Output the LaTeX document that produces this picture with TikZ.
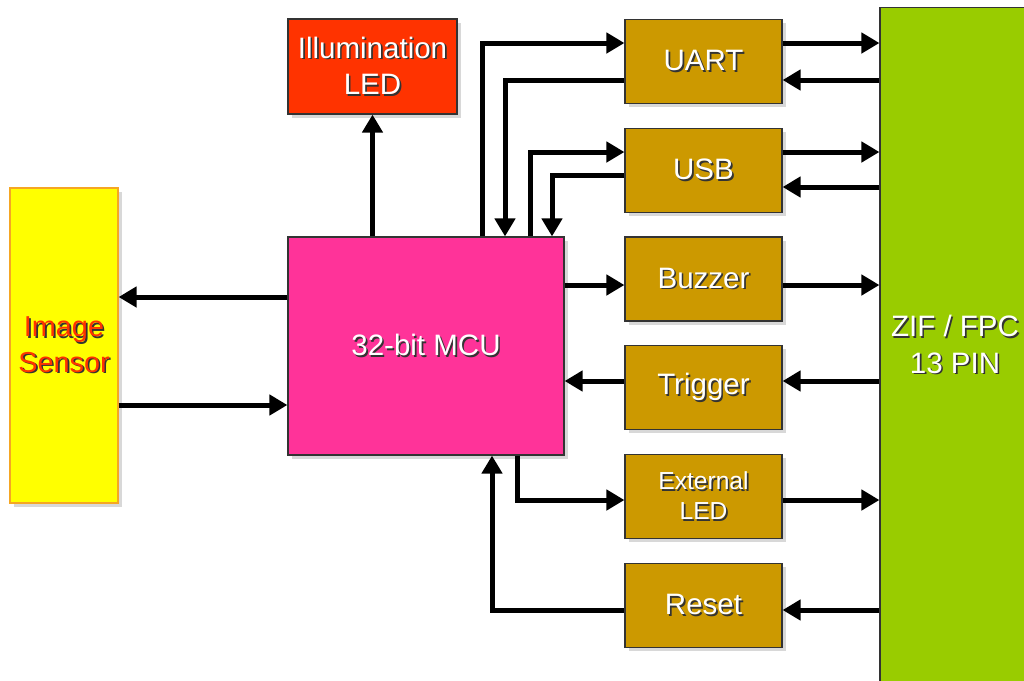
\documentclass[tikz,border=0pt]{standalone}
\usepackage{fontspec}
\setmainfont{Liberation Sans}
\usepackage{xcolor}
\usetikzlibrary{arrows.meta,positioning,shadows}

\definecolor{sensorfill}{HTML}{FFFF00}
\definecolor{sensorline}{HTML}{F5A623}
\definecolor{sensortext}{HTML}{FF3300}
\definecolor{mcufill}{HTML}{FF3399}
\definecolor{ledfill}{HTML}{FF3300}
\definecolor{blockfill}{HTML}{CC9900}
\definecolor{ziffill}{HTML}{99CC00}

% text with a small dark shadow
\newcommand{\shtext}[1]{\makebox[0pt][l]{\hspace{1.2pt}\raisebox{-1.2pt}{\color{black!80}#1}}#1}

\begin{document}
\begin{tikzpicture}[
    x=0.025cm, y=-0.025cm,
    node distance=0.59cm,
    box/.style={rectangle, draw=black!80, line width=0.8pt, inner sep=0pt, align=center,
        drop shadow={shadow xshift=0.09cm, shadow yshift=-0.09cm, fill=black!30},
        text=white, font=\fontsize{21}{26}\selectfont},
    blockbox/.style={box, fill=blockfill, minimum width=3.925cm, minimum height=2.1cm},
    arrow/.style={-{Triangle[length=0.45cm, width=0.5cm]}, line width=0.125cm}
]
\useasboundingbox (0,0) rectangle (1024,680);

\node[box, fill=sensorfill, draw=sensorline, text=sensortext, minimum width=2.7cm, minimum height=7.875cm,
    font=\fontsize{20.5}{25}\selectfont] (sensor) at (64,345.5) {\shtext{Image}\\\shtext{Sensor}};
\node[box, fill=mcufill, minimum width=6.9cm, minimum height=5.45cm] (mcu) at (426,346) {\shtext{32-bit MCU}};
\node[box, fill=ledfill, minimum width=4.225cm, minimum height=2.375cm] (illum) at (372.5,66.5) {\shtext{Illumination}\\\shtext{LED}};

\node[blockbox] (uart) at (703.5,61.5) {\shtext{UART}};
\node[blockbox, below=of uart] (usb) {\shtext{USB}};
\node[blockbox, below=of usb] (buzzer) {\shtext{Buzzer}};
\node[blockbox, below=of buzzer] (trigger) {\shtext{Trigger}};
\node[blockbox, below=of trigger, font=\fontsize{17.5}{21}\selectfont] (extled) {\shtext{External}\\\shtext{LED}};
\node[blockbox, below=of extled] (reset) {\shtext{Reset}};

\node[box, fill=ziffill, minimum width=3.75cm, minimum height=16.85cm] (zif) at (955,345) {\shtext{ZIF / FPC}\\\shtext{13 PIN}};

% MCU and sensor, LED
\draw[arrow] (mcu.west |- 0,297) -- (sensor.east |- 0,297);
\draw[arrow] (sensor.east |- 0,405) -- (mcu.west |- 0,405);
\draw[arrow] (mcu.north -| illum.south) -- (illum.south);

% MCU and interface blocks
\draw[arrow] (mcu.north -| 482,0) |- (uart.west |- 0,43);
\draw[arrow] (uart.west |- 0,80) -| (mcu.north -| 505,0);
\draw[arrow] (mcu.north -| 530,0) |- (usb.west |- 0,152);
\draw[arrow] (usb.west |- 0,175) -| (mcu.north -| 552,0);
\draw[arrow] (mcu.east |- 0,285) -- (buzzer.west |- 0,285);
\draw[arrow] (trigger.west |- 0,381) -- (mcu.east |- 0,381);
\draw[arrow] (mcu.south -| 517,0) |- (extled.west |- 0,500);
\draw[arrow] (reset.west |- 0,610) -| (mcu.south -| 492,0);

% interface blocks and connector
\draw[arrow] (uart.east |- 0,43) -- (zif.west |- 0,43);
\draw[arrow] (zif.west |- 0,80) -- (uart.east |- 0,80);
\draw[arrow] (usb.east |- 0,152) -- (zif.west |- 0,152);
\draw[arrow] (zif.west |- 0,187) -- (usb.east |- 0,187);
\draw[arrow] (buzzer.east |- 0,285) -- (zif.west |- 0,285);
\draw[arrow] (zif.west |- 0,381) -- (trigger.east |- 0,381);
\draw[arrow] (extled.east |- 0,500) -- (zif.west |- 0,500);
\draw[arrow] (zif.west |- 0,610) -- (reset.east |- 0,610);
\end{tikzpicture}
\end{document}
